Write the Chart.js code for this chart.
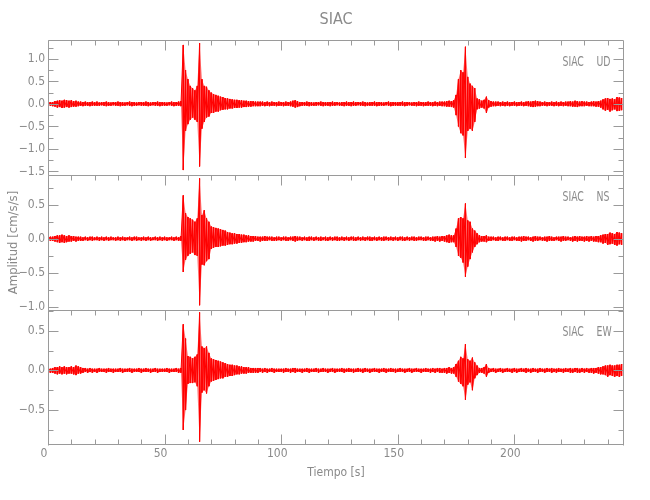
<!DOCTYPE html>
<html>
<head>
<meta charset="utf-8">
<script src="https://cdn.jsdelivr.net/npm/chart.js@4.4.1/dist/chart.umd.min.js"></script>
<style>
  html, body { margin: 0; padding: 0; background: #fff; }
</style>
</head>
<body>
<canvas id="graficaSIAC" width="650" height="500"></canvas>
<script>
// ========== DATOS ==========
const estacion = 'SIAC';
const componentes = ['UD', 'NS', 'EW'];

// muestreo de la envolvente: una muestra por segundo, 0..246 s
const tiempo = Array.from({ length: 247 }, (_, i) => i);

const ticksTiempo = [0, 50, 100, 150, 200];
const ticksUD = [-1.5, -1.0, -0.5, 0.0, 0.5, 1.0];
const ticksNS = [-1.0, -0.5, 0.0, 0.5];
const ticksEW = [-0.5, 0.0, 0.5];

const udMax = [
  .03,.04,.04,.06,.07,.08,.07,.09,.08,.07,
  .08,.06,.07,.05,.05,.04,.05,.04,.04,.05,
  .04,.05,.03,.04,.04,.05,.04,.03,.04,.04,
  .05,.04,.04,.03,.04,.05,.04,.04,.03,.04,
  .04,.04,.05,.04,.03,.04,.04,.05,.04,.04,
  .04,.03,.04,.05,.04,.04,.05,.06,1.31,.75,
  .55,.40,.35,.30,.40,1.35,.55,.40,.38,.30,
  .25,.22,.20,.18,.16,.15,.13,.12,.11,.10,
  .09,.09,.08,.08,.07,.07,.06,.06,.06,.05,
  .05,.05,.05,.04,.05,.04,.05,.04,.04,.05,
  .04,.04,.05,.04,.05,.07,.08,.06,.04,.04,
  .04,.05,.04,.04,.03,.04,.04,.05,.04,.04,
  .04,.04,.05,.04,.04,.03,.04,.04,.05,.04,
  .04,.05,.04,.04,.04,.05,.04,.03,.04,.04,
  .05,.04,.04,.04,.03,.04,.05,.04,.04,.04,
  .04,.04,.05,.04,.04,.04,.03,.04,.04,.05,
  .04,.04,.04,.05,.04,.04,.05,.04,.05,.05,
  .05,.06,.07,.06,.08,.20,.55,.75,.70,1.27,
  .60,.45,.40,.35,.12,.10,.07,.09,.16,.08,
  .06,.05,.05,.05,.04,.05,.04,.05,.04,.04,
  .05,.04,.04,.05,.04,.05,.06,.05,.06,.07,
  .06,.05,.04,.05,.04,.04,.05,.04,.05,.04,
  .05,.04,.05,.05,.06,.05,.07,.06,.05,.06,
  .05,.05,.04,.05,.06,.05,.06,.07,.10,.12,
  .13,.11,.12,.10,.15,.14,.13
];
const udMin = [
  -.03,-.04,-.05,-.06,-.08,-.07,-.09,-.08,-.07,-.08,
  -.07,-.06,-.06,-.05,-.04,-.05,-.04,-.04,-.05,-.04,
  -.04,-.04,-.04,-.03,-.04,-.05,-.04,-.04,-.03,-.04,
  -.04,-.05,-.04,-.04,-.03,-.04,-.05,-.04,-.04,-.03,
  -.04,-.04,-.04,-.05,-.04,-.03,-.04,-.04,-.05,-.04,
  -.04,-.04,-.03,-.04,-.05,-.04,-.04,-.05,-1.47,-.60,
  -.45,-.35,-.30,-.35,-.40,-1.39,-.55,-.40,-.30,-.28,
  -.20,-.20,-.17,-.17,-.14,-.13,-.12,-.12,-.10,-.10,
  -.09,-.09,-.08,-.08,-.07,-.07,-.06,-.06,-.05,-.05,
  -.05,-.05,-.04,-.05,-.04,-.05,-.04,-.04,-.05,-.04,
  -.04,-.05,-.04,-.04,-.05,-.06,-.08,-.07,-.05,-.04,
  -.04,-.04,-.05,-.04,-.04,-.04,-.03,-.04,-.05,-.04,
  -.04,-.05,-.04,-.04,-.03,-.04,-.04,-.05,-.04,-.04,
  -.05,-.04,-.04,-.03,-.04,-.04,-.05,-.04,-.04,-.04,
  -.04,-.05,-.04,-.04,-.04,-.03,-.04,-.05,-.04,-.04,
  -.04,-.04,-.04,-.05,-.04,-.03,-.04,-.04,-.05,-.04,
  -.04,-.05,-.04,-.04,-.04,-.05,-.04,-.05,-.04,-.05,
  -.05,-.06,-.06,-.07,-.08,-.25,-.50,-.65,-.70,-1.20,
  -.60,-.55,-.60,-.40,-.12,-.10,-.08,-.10,-.20,-.08,
  -.06,-.05,-.05,-.04,-.05,-.04,-.05,-.04,-.05,-.04,
  -.04,-.05,-.04,-.04,-.05,-.04,-.05,-.06,-.07,-.06,
  -.05,-.05,-.04,-.04,-.05,-.04,-.04,-.05,-.04,-.05,
  -.04,-.05,-.04,-.05,-.05,-.06,-.06,-.07,-.05,-.05,
  -.05,-.04,-.05,-.05,-.05,-.06,-.06,-.08,-.12,-.15,
  -.13,-.17,-.14,-.12,-.16,-.15,-.14
];
const nsMax = [
  .02,.03,.03,.04,.05,.05,.06,.05,.04,.05,
  .04,.04,.03,.03,.03,.02,.03,.02,.03,.03,
  .02,.03,.02,.03,.02,.03,.02,.03,.02,.02,
  .03,.02,.03,.02,.02,.03,.02,.03,.03,.02,
  .02,.03,.02,.03,.02,.02,.03,.02,.03,.02,
  .03,.02,.02,.03,.02,.03,.02,.04,.64,.38,
  .32,.30,.28,.25,.30,.89,.35,.42,.30,.25,
  .18,.17,.16,.15,.14,.13,.12,.10,.09,.08,
  .08,.07,.07,.06,.06,.05,.05,.04,.04,.04,
  .03,.03,.03,.04,.03,.03,.03,.02,.03,.03,
  .02,.03,.03,.02,.03,.03,.04,.03,.03,.02,
  .03,.02,.03,.03,.02,.03,.02,.03,.02,.03,
  .02,.03,.02,.03,.03,.02,.03,.02,.03,.02,
  .03,.03,.02,.03,.02,.03,.02,.03,.03,.02,
  .03,.02,.03,.02,.03,.03,.02,.03,.02,.03,
  .02,.03,.03,.02,.03,.02,.03,.03,.02,.03,
  .03,.02,.03,.03,.02,.03,.03,.04,.03,.04,
  .04,.05,.06,.05,.05,.15,.30,.32,.30,.52,
  .27,.25,.15,.12,.08,.05,.04,.04,.05,.03,
  .03,.03,.02,.03,.03,.02,.03,.03,.02,.03,
  .03,.02,.03,.03,.04,.03,.03,.02,.03,.04,
  .03,.03,.02,.03,.03,.04,.03,.02,.03,.03,
  .03,.04,.03,.03,.02,.03,.04,.03,.04,.03,
  .03,.04,.03,.04,.03,.04,.04,.05,.06,.07,
  .07,.09,.08,.07,.10,.09,.08
];
const nsMin = [
  -.02,-.03,-.03,-.04,-.05,-.06,-.05,-.06,-.05,-.04,
  -.04,-.03,-.04,-.03,-.03,-.03,-.02,-.03,-.02,-.03,
  -.02,-.02,-.03,-.02,-.03,-.02,-.03,-.02,-.02,-.03,
  -.02,-.03,-.02,-.03,-.02,-.02,-.03,-.02,-.03,-.02,
  -.03,-.02,-.03,-.02,-.03,-.02,-.02,-.03,-.02,-.03,
  -.02,-.03,-.02,-.02,-.03,-.02,-.03,-.03,-.49,-.31,
  -.25,-.22,-.20,-.24,-.25,-.98,-.38,-.39,-.33,-.30,
  -.15,-.13,-.12,-.12,-.11,-.10,-.10,-.09,-.08,-.08,
  -.07,-.07,-.06,-.06,-.05,-.05,-.04,-.04,-.04,-.03,
  -.03,-.04,-.03,-.03,-.03,-.02,-.03,-.03,-.03,-.02,
  -.03,-.02,-.03,-.03,-.02,-.03,-.04,-.03,-.02,-.03,
  -.02,-.03,-.03,-.02,-.03,-.02,-.03,-.03,-.02,-.03,
  -.03,-.02,-.03,-.02,-.03,-.03,-.02,-.03,-.02,-.03,
  -.02,-.03,-.03,-.02,-.03,-.02,-.03,-.02,-.03,-.03,
  -.02,-.03,-.02,-.03,-.03,-.02,-.03,-.02,-.03,-.02,
  -.03,-.02,-.03,-.03,-.02,-.03,-.02,-.03,-.03,-.02,
  -.02,-.03,-.03,-.02,-.03,-.03,-.04,-.03,-.04,-.03,
  -.04,-.05,-.06,-.05,-.05,-.12,-.25,-.28,-.35,-.56,
  -.41,-.30,-.20,-.12,-.08,-.05,-.04,-.04,-.05,-.03,
  -.03,-.02,-.03,-.03,-.02,-.03,-.03,-.02,-.03,-.03,
  -.02,-.03,-.03,-.04,-.03,-.03,-.02,-.03,-.04,-.03,
  -.03,-.02,-.03,-.03,-.04,-.03,-.03,-.03,-.02,-.03,
  -.04,-.03,-.03,-.02,-.03,-.04,-.03,-.04,-.03,-.03,
  -.04,-.03,-.04,-.03,-.04,-.04,-.05,-.05,-.07,-.06,
  -.09,-.08,-.07,-.09,-.10,-.08,-.09
];
const ewMax = [
  .02,.02,.03,.04,.04,.05,.04,.05,.04,.04,
  .05,.04,.06,.05,.04,.03,.03,.02,.03,.02,
  .02,.02,.03,.02,.02,.02,.03,.02,.02,.02,
  .02,.03,.02,.02,.02,.03,.02,.02,.02,.03,
  .02,.02,.03,.02,.02,.02,.03,.02,.02,.02,
  .02,.03,.02,.02,.02,.03,.02,.03,.58,.40,
  .18,.17,.15,.17,.20,.73,.30,.28,.30,.22,
  .15,.14,.13,.12,.11,.10,.09,.08,.07,.07,
  .06,.06,.05,.05,.04,.04,.04,.03,.03,.03,
  .03,.03,.02,.03,.02,.02,.03,.02,.02,.02,
  .02,.02,.03,.02,.02,.03,.03,.02,.02,.02,
  .02,.03,.02,.02,.02,.03,.02,.02,.03,.02,
  .02,.02,.03,.02,.02,.02,.03,.02,.02,.03,
  .02,.02,.02,.03,.02,.02,.03,.02,.02,.02,
  .03,.02,.02,.02,.03,.02,.02,.03,.02,.02,
  .02,.03,.02,.02,.02,.03,.02,.02,.03,.02,
  .02,.02,.03,.02,.02,.03,.02,.03,.03,.02,
  .03,.03,.04,.03,.04,.08,.12,.17,.15,.33,
  .14,.12,.16,.10,.06,.03,.03,.04,.08,.03,
  .02,.03,.02,.02,.03,.02,.02,.03,.02,.02,
  .03,.02,.02,.03,.02,.03,.02,.02,.03,.02,
  .02,.03,.02,.02,.03,.02,.03,.02,.02,.03,
  .02,.02,.03,.02,.03,.02,.03,.03,.02,.03,
  .02,.03,.02,.03,.03,.03,.04,.04,.05,.06,
  .06,.07,.06,.06,.07,.07,.08
];
const ewMin = [
  -.02,-.03,-.03,-.04,-.05,-.04,-.05,-.04,-.05,-.04,
  -.04,-.05,-.06,-.04,-.04,-.03,-.02,-.03,-.02,-.03,
  -.02,-.03,-.02,-.02,-.02,-.03,-.02,-.02,-.03,-.02,
  -.02,-.02,-.03,-.02,-.02,-.02,-.03,-.02,-.02,-.02,
  -.03,-.02,-.02,-.02,-.03,-.02,-.02,-.03,-.02,-.02,
  -.02,-.02,-.03,-.02,-.02,-.02,-.03,-.03,-.75,-.50,
  -.17,-.16,-.16,-.15,-.20,-.90,-.28,-.25,-.29,-.20,
  -.14,-.13,-.12,-.11,-.10,-.10,-.08,-.08,-.07,-.07,
  -.06,-.05,-.05,-.04,-.04,-.04,-.03,-.03,-.03,-.03,
  -.03,-.02,-.03,-.02,-.03,-.02,-.02,-.03,-.02,-.02,
  -.02,-.03,-.02,-.02,-.03,-.02,-.03,-.02,-.02,-.03,
  -.02,-.02,-.03,-.02,-.02,-.02,-.03,-.02,-.02,-.02,
  -.03,-.02,-.02,-.03,-.02,-.02,-.02,-.03,-.02,-.02,
  -.02,-.03,-.02,-.02,-.02,-.03,-.02,-.02,-.03,-.02,
  -.02,-.02,-.03,-.02,-.02,-.03,-.02,-.02,-.02,-.03,
  -.02,-.02,-.02,-.03,-.02,-.02,-.03,-.02,-.02,-.02,
  -.03,-.02,-.02,-.02,-.03,-.02,-.03,-.02,-.03,-.03,
  -.03,-.04,-.03,-.04,-.04,-.08,-.14,-.17,-.20,-.37,
  -.18,-.15,-.25,-.10,-.06,-.03,-.03,-.04,-.08,-.03,
  -.02,-.02,-.03,-.02,-.02,-.03,-.02,-.02,-.02,-.03,
  -.02,-.03,-.02,-.02,-.02,-.03,-.02,-.03,-.02,-.02,
  -.03,-.02,-.02,-.03,-.02,-.02,-.03,-.02,-.03,-.02,
  -.02,-.03,-.02,-.02,-.03,-.03,-.02,-.03,-.03,-.02,
  -.03,-.02,-.03,-.03,-.04,-.03,-.04,-.05,-.05,-.06,
  -.08,-.06,-.07,-.08,-.07,-.08,-.07
];

// ========== ESTILO ==========
const colorTraza = '#ff0000';
const colorRelleno = 'rgba(255, 0, 0, 0.55)';
const colorEjes = '#9a9a9a';
const colorTexto = '#8a8a8a';
const fuente = "'Liberation Sans Narrow', 'DejaVu Sans Condensed', sans-serif";
const idsPaneles = ['yUD', 'yNS', 'yEW'];

function formatoTick(v) {
  return v.toFixed(1).replace('-', '\u2212');
}

// traza: en cada segundo sube al máximo y baja al mínimo leídos
function traza(minimos, maximos) {
  const puntos = [];
  tiempo.forEach((t, i) => {
    puntos.push({ x: t, y: maximos[i] });
    puntos.push({ x: t, y: minimos[i] });
  });
  return puntos;
}

function serie(valores) {
  return tiempo.map((t, i) => ({ x: t, y: valores[i] }));
}

function ejeCanal(rango, ticks, titulo) {
  return {
    type: 'linear',
    position: 'left',
    stack: 'canales',
    stackWeight: 1,
    min: rango[0],
    max: rango[1],
    grid: { display: false, drawTicks: false },
    border: { display: false },
    afterBuildTicks: (eje) => { eje.ticks = ticks.map(v => ({ value: v })); },
    afterFit: (eje) => { eje.width = 48; },
    ticks: {
      color: colorTexto,
      font: { family: fuente, size: 12 },
      padding: 3,
      autoSkip: false,
      callback: (v) => formatoTick(v)
    },
    title: titulo
      ? { display: true, text: titulo, color: colorTexto, font: { family: fuente, size: 13 }, padding: { top: 6, bottom: 0 } }
      : { display: false }
  };
}

// ========== MARCO, TICKS INTERNOS Y ETIQUETAS ==========
const marcoPaneles = {
  id: 'marcoPaneles',
  afterDatasetsDraw(chart) {
    const { ctx, scales } = chart;
    const ejeX = scales.x;
    const izq = Math.round(ejeX.left) + 0.5;
    const der = Math.round(ejeX.right) - 0.5;
    ctx.save();
    ctx.strokeStyle = colorEjes;
    ctx.lineWidth = 1;
    ctx.beginPath();
    idsPaneles.forEach((id, k) => {
      const ejeY = scales[id];
      const arriba = Math.round(ejeY.top) + 0.5;
      const abajo = Math.round(ejeY.bottom) - 0.5;
      const ultimo = k === idsPaneles.length - 1;

      // bordes
      ctx.moveTo(izq, arriba); ctx.lineTo(der, arriba);
      ctx.moveTo(izq, arriba); ctx.lineTo(izq, abajo + 1);
      ctx.moveTo(der, arriba); ctx.lineTo(der, abajo + 1);
      if (ultimo) { ctx.moveTo(izq, abajo); ctx.lineTo(der, abajo); }

      // ticks del eje Y (mayores cada 0.5, menores cada 0.25)
      for (let v = Math.ceil(ejeY.min / 0.25) * 0.25; v <= ejeY.max + 1e-9; v += 0.25) {
        const py = Math.round(ejeY.getPixelForValue(v)) + 0.5;
        const mayor = Math.abs(v / 0.5 - Math.round(v / 0.5)) < 1e-6;
        const largo = mayor ? 10 : 5;
        ctx.moveTo(izq, py); ctx.lineTo(izq + largo, py);
        ctx.moveTo(der, py); ctx.lineTo(der - largo, py);
      }

      // ticks del eje X (mayores cada 50 s, menores cada 10 s)
      for (let t = 0; t <= ejeX.max; t += 10) {
        const px = Math.round(ejeX.getPixelForValue(t)) + 0.5;
        const largo = t % 50 === 0 ? 10 : 5;
        ctx.moveTo(px, arriba); ctx.lineTo(px, arriba + largo);
        if (ultimo) { ctx.moveTo(px, abajo); ctx.lineTo(px, abajo - largo); }
      }
    });
    ctx.stroke();

    // nombre de estación y componente (letra estrecha, como en el original)
    ctx.fillStyle = colorTexto;
    ctx.font = `14px ${fuente}`;
    ctx.textBaseline = 'middle';
    ctx.textAlign = 'left';
    idsPaneles.forEach((id, k) => {
      const arriba = scales[id].top;
      [[estacion, der - 61], [componentes[k], der - 27]].forEach(([texto, x]) => {
        ctx.save();
        ctx.translate(x, arriba + 22);
        ctx.scale(0.74, 1);
        ctx.fillText(texto, 0, 0);
        ctx.restore();
      });
    });
    ctx.restore();
  }
};

// ========== GRÁFICA ==========
const estiloTraza = {
  borderColor: colorTraza,
  borderWidth: 1,
  pointRadius: 0,
  tension: 0,
  fill: false
};
const estiloBorde = {
  borderColor: 'transparent',
  borderWidth: 0,
  pointRadius: 0,
  tension: 0,
  backgroundColor: colorRelleno
};

const canales = [
  { id: 'yUD', nombre: 'UD', min: udMin, max: udMax },
  { id: 'yNS', nombre: 'NS', min: nsMin, max: nsMax },
  { id: 'yEW', nombre: 'EW', min: ewMin, max: ewMax }
];

const datasets = [];
canales.forEach(c => {
  datasets.push({ ...estiloTraza, label: c.nombre, data: traza(c.min, c.max), yAxisID: c.id });
});
canales.forEach(c => {
  datasets.push({ ...estiloBorde, label: c.nombre + ' máx', data: serie(c.max), yAxisID: c.id, fill: '+1' });
  datasets.push({ ...estiloBorde, label: c.nombre + ' mín', data: serie(c.min), yAxisID: c.id, fill: false });
});

new Chart(document.getElementById('graficaSIAC'), {
  type: 'line',
  data: { datasets },
  options: {
    responsive: false,
    animation: false,
    layout: { padding: { left: 0, right: 26, top: 0, bottom: 0 } },
    plugins: {
      legend: { display: false },
      tooltip: { enabled: false },
      title: {
        display: true,
        text: estacion,
        fullSize: false,
        color: colorTexto,
        font: { family: fuente, size: 16, weight: 'normal' },
        padding: { top: 10, bottom: 10.8 }
      }
    },
    scales: {
      x: {
        type: 'linear',
        min: 0,
        max: 247,
        offset: false,
        grid: { display: false, drawTicks: false },
        border: { display: false },
        afterBuildTicks: (eje) => { eje.ticks = ticksTiempo.map(v => ({ value: v })); },
        afterFit: (eje) => { eje.height = 55; },
        ticks: {
          color: colorTexto,
          font: { family: fuente, size: 12 },
          padding: 2,
          labelOffset: -4,
          maxRotation: 0,
          autoSkip: false
        },
        title: {
          display: true,
          text: 'Tiempo [s]',
          color: colorTexto,
          font: { family: fuente, size: 12 },
          padding: { top: 0, bottom: 20 }
        }
      },
      // el último eje declarado queda arriba en la pila
      yEW: ejeCanal([-0.94, 0.76], ticksEW),
      yNS: ejeCanal([-1.05, 0.94], ticksNS, 'Amplitud [cm/s/s]'),
      yUD: ejeCanal([-1.58, 1.42], ticksUD)
    }
  },
  plugins: [marcoPaneles]
});
</script>
</body>
</html>
